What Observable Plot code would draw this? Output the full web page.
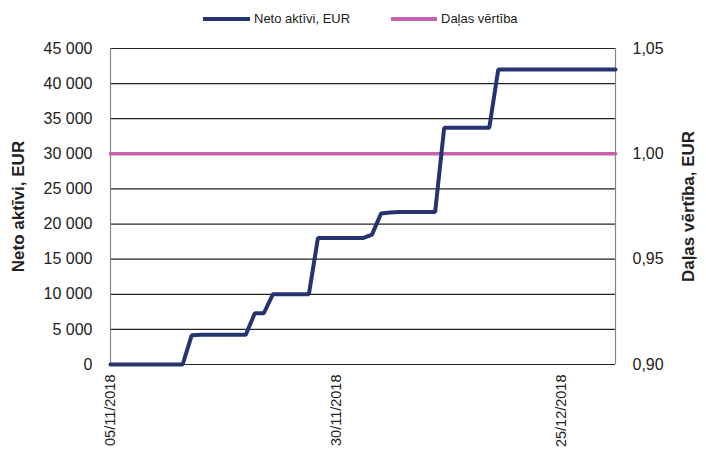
<!DOCTYPE html>
<html>
<head>
<meta charset="utf-8">
<script src="https://cdn.jsdelivr.net/npm/d3@7"></script>
<script src="https://cdn.jsdelivr.net/npm/@observablehq/plot@0.6"></script>
<style>
  body { margin: 0; background: #fff; font-family: "Liberation Sans", Arial, sans-serif; }
  #wrap { position: relative; width: 706px; height: 451px; }
  #legend { position: relative; width: 706px; height: 36px; font-size: 13px; color: #222; }
  .sw { position: absolute; top: 17px; height: 4px; }
  .lt { position: absolute; top: 11px; line-height: 16px; }
</style>
</head>
<body>
<div id="wrap">
  <div id="legend">
    <div class="sw" style="left:203px;width:47px;background:#253470"></div>
    <div class="lt" style="left:254px">Neto aktīvi, EUR</div>
    <div class="sw" style="left:391px;width:46px;background:#c564aa"></div>
    <div class="lt" style="left:441px">Daļas vērtība</div>
  </div>
  <div id="chart"></div>
</div>
<script>
const dates = [
  "2018-11-05","2018-11-06","2018-11-07","2018-11-08","2018-11-09","2018-11-10","2018-11-11","2018-11-12","2018-11-13","2018-11-14",
  "2018-11-15","2018-11-16","2018-11-17","2018-11-18","2018-11-19","2018-11-20","2018-11-21","2018-11-22","2018-11-23","2018-11-24",
  "2018-11-25","2018-11-26","2018-11-27","2018-11-28","2018-11-29","2018-11-30","2018-12-01","2018-12-02","2018-12-03","2018-12-04",
  "2018-12-05","2018-12-06","2018-12-07","2018-12-08","2018-12-09","2018-12-10","2018-12-11","2018-12-12","2018-12-13","2018-12-14",
  "2018-12-15","2018-12-16","2018-12-17","2018-12-18","2018-12-19","2018-12-20","2018-12-21","2018-12-22","2018-12-23","2018-12-24",
  "2018-12-25","2018-12-26","2018-12-27","2018-12-28","2018-12-29","2018-12-30","2018-12-31"
];
const netAssets = [
  0,0,0,0,0,0,0,0,0,4150,
  4250,4250,4250,4250,4250,4250,7300,7300,10000,10000,
  10000,10000,10000,18000,18000,18000,18000,18000,18000,18500,
  21500,21650,21700,21700,21700,21700,21700,33700,33700,33700,
  33700,33700,33700,42000,42000,42000,42000,42000,42000,42000,
  42000,42000,42000,42000,42000,42000,42000
];
const unitValue = [1.00, 1.00];
const unitDates = ["2018-11-05","2018-12-31"];
const xTicks = ["2018-11-05","2018-11-30","2018-12-25"];
const leftTicks = [0,5000,10000,15000,20000,25000,30000,35000,40000,45000];
const rightTicks = [0.90, 0.95, 1.00, 1.05];

const leftMax = 45000, rMin = 0.90, rMax = 1.05;
const toLeft = v => (v - rMin) / (rMax - rMin) * leftMax;

const navData = dates.map((d, i) => ({date: new Date(d), v: netAssets[i]}));
const unitData = unitDates.map((d, i) => ({date: new Date(d), v: toLeft(unitValue[i])}));

const fmtThousands = d => d === 0 ? "0" : d3.format(",")(d).replace(/,/g, " ");
const fmtDate = d => d3.utcFormat("%d/%m/%Y")(d);

const chart = Plot.plot({
  width: 706,
  height: 415,
  marginTop: 12,
  marginBottom: 87,
  marginLeft: 110,
  marginRight: 91,
  style: {fontFamily: "'Liberation Sans', Arial, sans-serif", fontSize: "16px", color: "#222", background: "#fff"},
  x: {type: "utc", domain: [new Date(dates[0]), new Date(dates[dates.length - 1])]},
  y: {domain: [0, leftMax]},
  marks: [
    Plot.ruleY(leftTicks.slice(1), {stroke: "#222", strokeWidth: 1.2}),
    Plot.ruleX([new Date(dates[0]), new Date(dates[dates.length - 1])], {stroke: "#888", strokeWidth: 1.2}),
    Plot.ruleY([0], {stroke: "#222", strokeWidth: 1.2}),
    Plot.axisY(leftTicks, {anchor: "left", tickSize: 0, tickPadding: 18, tickFormat: fmtThousands, fontSize: 16, label: null}),
    Plot.axisY(rightTicks.map(toLeft), {anchor: "right", tickSize: 0, tickPadding: 17, fontSize: 16, label: null,
      tickFormat: d => (rMin + d / leftMax * (rMax - rMin)).toFixed(2).replace(".", ",")}),
    Plot.axisX(xTicks.map(d => new Date(d)), {anchor: "bottom", tickSize: 0, tickPadding: 10, tickRotate: -90, fontSize: 14.5, tickFormat: fmtDate, label: null}),
    Plot.line(unitData, {x: "date", y: "v", stroke: "#c564aa", strokeWidth: 3.5}),
    Plot.line(navData, {x: "date", y: "v", stroke: "#253470", strokeWidth: 4, strokeLinejoin: "miter"}),
    Plot.text(["Neto aktīvi, EUR"], {frameAnchor: "left", textAnchor: "middle", dx: -92, rotate: -90, fontWeight: "bold", fontSize: 17, fill: "#222"}),
    Plot.text(["Daļas vērtība, EUR"], {frameAnchor: "right", textAnchor: "middle", dx: 73, rotate: -90, fontWeight: "bold", fontSize: 17, fill: "#222"})
  ]
});
document.getElementById("chart").appendChild(chart);
</script>
</body>
</html>
